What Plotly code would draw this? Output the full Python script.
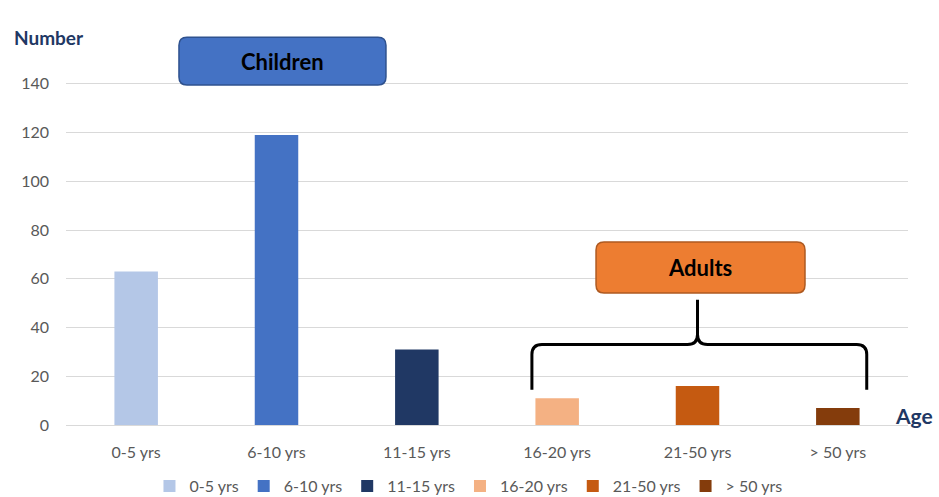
import plotly.graph_objects as go

# Age groups and case counts
age_groups = ["0-5 yrs", "6-10 yrs", "11-15 yrs", "16-20 yrs", "21-50 yrs", "> 50 yrs"]
counts = [63, 119, 31, 11, 16, 7]
bar_colors = ["#B4C7E7", "#4472C4", "#203864", "#F4B183", "#C55A11", "#843C0C"]
y_ticks = [0, 20, 40, 60, 80, 100, 120, 140]

Y_MAX = 160
N = len(age_groups)

W, H = 939, 497
M_L, M_R, M_T, M_B = 66, 31, 35, 72
PW = W - M_L - M_R
PH = H - M_T - M_B

FONT = "Lato"
NAVY = "#1F3864"
GREY = "#595959"


def px(i):
    """category index -> paper x"""
    return (i + 0.5) / N


def py(v):
    """value -> paper y"""
    return v / Y_MAX


def rounded_box(x0, x1, y0, y1, r_px=8):
    X0, X1, Y0, Y1 = px(x0), px(x1), py(y0), py(y1)
    rx, ry = r_px / PW, r_px / PH
    return (f"M {X0 + rx},{Y0} L {X1 - rx},{Y0} Q {X1},{Y0} {X1},{Y0 + ry} "
            f"L {X1},{Y1 - ry} Q {X1},{Y1} {X1 - rx},{Y1} "
            f"L {X0 + rx},{Y1} Q {X0},{Y1} {X0},{Y1 - ry} "
            f"L {X0},{Y0 + ry} Q {X0},{Y0} {X0 + rx},{Y0} Z")


def brace(xl, xc, xr, yb, yh, ytop, r_px=10):
    XL, XC, XR = px(xl), px(xc), px(xr)
    YB, YH, YT = py(yb), py(yh), py(ytop)
    rx, ry = r_px / PW, r_px / PH
    return (f"M {XL},{YB} L {XL},{YH - ry} Q {XL},{YH} {XL + rx},{YH} "
            f"L {XC - rx},{YH} Q {XC},{YH} {XC},{YH + ry} L {XC},{YT} "
            f"M {XC},{YH + ry} Q {XC},{YH} {XC + rx},{YH} "
            f"L {XR - rx},{YH} Q {XR},{YH} {XR},{YH - ry} L {XR},{YB}")


fig = go.Figure()
for g, c, col in zip(age_groups, counts, bar_colors):
    fig.add_trace(go.Bar(x=[g], y=[c], name=g, marker=dict(color=col, line=dict(width=0)),
                         width=0.31))

fig.update_layout(
    width=W, height=H,
    margin=dict(l=M_L, r=M_R, t=M_T, b=M_B, autoexpand=False),
    paper_bgcolor="white", plot_bgcolor="white",
    barmode="overlay",
    font=dict(family=FONT, size=16, color=GREY),
    showlegend=True,
    legend=dict(orientation="h", x=0.478, xanchor="center", yref="container",
                y=(H - 486) / H, yanchor="middle",
                font=dict(size=16, color=GREY), itemwidth=30, traceorder="normal"),
    xaxis=dict(categoryorder="array", categoryarray=age_groups, range=[-0.5, N - 0.5],
               showgrid=False, showline=True, linecolor="#D9D9D9", linewidth=1,
               ticks="", tickfont=dict(size=16, color=GREY), ticklabelstandoff=13,
               automargin=False),
    yaxis=dict(range=[0, Y_MAX], tickvals=y_ticks, showgrid=True, gridcolor="#D9D9D9",
               gridwidth=1, zeroline=False, showline=False, ticks="",
               tickfont=dict(size=16, color=GREY), ticklabelstandoff=16,
               automargin=False),
)

shapes = [
    dict(type="path", xref="paper", yref="paper",
         path=rounded_box(0.305, 1.78, 139.5, 159.1),
         fillcolor="#4472C4", line=dict(color="#2F528F", width=1.5), layer="above"),
    dict(type="path", xref="paper", yref="paper",
         path=rounded_box(3.277, 4.766, 54.2, 75.1),
         fillcolor="#ED7D31", line=dict(color="#AE5A21", width=1.5), layer="above"),
    dict(type="path", xref="paper", yref="paper",
         path=brace(2.82, 4.0, 5.206, 14.5, 33, 51.4),
         line=dict(color="black", width=3), layer="above"),
]
fig.update_layout(shapes=shapes)

annotations = [
    dict(text="<b>Children</b>", x=px(1.04), y=py(149.3), xref="paper", yref="paper",
         xanchor="center", yanchor="middle", showarrow=False,
         font=dict(family=FONT, size=22, color="black")),
    dict(text="<b>Adults</b>", x=px(4.02), y=py(64.6), xref="paper", yref="paper",
         xanchor="center", yanchor="middle", showarrow=False,
         font=dict(family=FONT, size=22, color="black")),
    dict(text="<b>Number</b>", x=-(M_L - 12) / PW, y=(H - M_B - 38) / PH,
         xref="paper", yref="paper", xanchor="left", yanchor="middle", showarrow=False,
         font=dict(family=FONT, size=19, color=NAVY)),
    dict(text="<b>Age</b>", x=(893 - M_L) / PW, y=(H - M_B - 415) / PH,
         xref="paper", yref="paper", xanchor="left", yanchor="middle", showarrow=False,
         font=dict(family=FONT, size=21, color=NAVY)),
]
fig.update_layout(annotations=annotations)

fig.write_html("out.html")
